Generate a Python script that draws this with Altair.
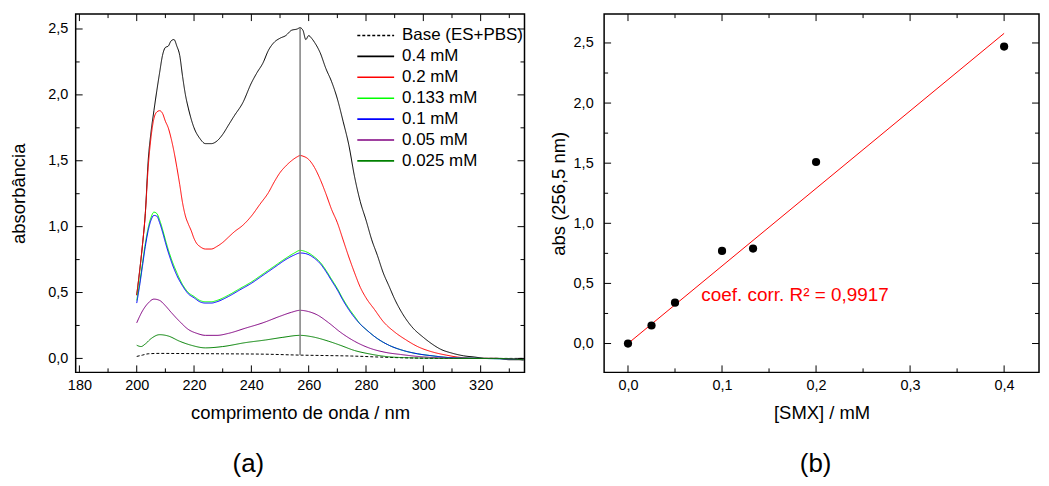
import altair as alt
import pandas as pd

FONT = "Liberation Sans"

# ---------------- panel (a): spectra ----------------
series_names = ["Base (ES+PBS)", "0.4 mM", "0.2 mM", "0.133 mM", "0.1 mM", "0.05 mM", "0.025 mM"]
series_colors = ["#000000", "#000000", "#ff0000", "#00ff00", "#0000ff", "#800080", "#008000"]
series_dash = [[3, 2], [1, 0], [1, 0], [1, 0], [1, 0], [1, 0], [1, 0]]

wl_base = [200, 202, 204, 208, 215, 230, 245, 257, 265, 275, 285, 296, 310, 335]
abs_base = [0.015, 0.025, 0.035, 0.038, 0.037, 0.035, 0.032, 0.025, 0.022, 0.018, 0.01, 0.003, 0.0, 0.0]

wl_04 = [200, 201, 202, 203, 204, 205, 206, 207, 208, 209, 210, 211, 212, 213, 214, 215, 216, 217, 218,
         220, 222, 224, 226, 228, 230, 232, 234, 237, 240, 242, 244, 246, 248, 250, 252, 254, 256, 257,
         258, 259, 260, 261, 262, 264, 266, 268, 270, 272, 274, 276, 278, 280, 282, 284, 286, 288, 290,
         293, 296, 300, 303, 306, 310, 314, 318, 322, 326, 330, 335]
abs_04 = [0.48, 0.66, 0.86, 1.10, 1.50, 1.72, 1.88, 2.03, 2.17, 2.30, 2.36, 2.37, 2.41, 2.42, 2.37, 2.30,
          2.14, 2.00, 1.90, 1.75, 1.67, 1.63, 1.63, 1.65, 1.70, 1.77, 1.84, 1.94, 2.09, 2.17, 2.24, 2.34,
          2.40, 2.43, 2.45, 2.49, 2.50, 2.51, 2.49, 2.42, 2.45, 2.43, 2.40, 2.32, 2.20, 2.10, 1.97, 1.80,
          1.62, 1.38, 1.19, 1.05, 0.90, 0.78, 0.65, 0.55, 0.45, 0.33, 0.24, 0.16, 0.11, 0.07, 0.04, 0.02,
          0.01, 0.0, 0.0, -0.01, -0.01]

wl_02 = [200, 201, 202, 203, 204, 205, 206, 207, 208, 209, 210, 211, 212, 213, 214, 215, 216, 217, 218,
         219, 220, 221, 222, 224, 226, 228, 230, 232, 234, 237, 240, 243, 246, 248, 250, 252, 254, 256,
         257, 258, 260, 262, 264, 266, 268, 270, 272, 274, 276, 278, 280, 283, 286, 290, 294, 298, 303,
         308, 312, 318, 325, 330, 335]
abs_02 = [0.48, 0.66, 0.86, 1.10, 1.45, 1.68, 1.82, 1.87, 1.88, 1.86, 1.80, 1.75, 1.67, 1.57, 1.45, 1.32,
          1.18, 1.08, 1.02, 0.97, 0.91, 0.87, 0.85, 0.83, 0.83, 0.85, 0.88, 0.92, 0.96, 1.01, 1.08, 1.17,
          1.26, 1.34, 1.41, 1.46, 1.50, 1.53, 1.54, 1.535, 1.51, 1.45, 1.36, 1.25, 1.13, 1.03, 0.90, 0.77,
          0.65, 0.54, 0.46, 0.37, 0.28, 0.20, 0.14, 0.09, 0.05, 0.025, 0.01, 0.0, 0.0, -0.005, -0.01]

wl_mid = [200, 201, 202, 203, 204, 205, 206, 207, 208, 209, 210, 212, 214, 216, 218, 220, 222, 224, 226,
          228, 232, 236, 240, 244, 248, 252, 255, 257, 259, 262, 264, 266, 268, 270, 272, 274, 276, 278,
          280, 284, 288, 293, 298, 303, 310, 320, 330, 335]
abs_0133 = [0.44, 0.57, 0.72, 0.87, 0.99, 1.07, 1.11, 1.10, 1.05, 0.98, 0.90, 0.76, 0.65, 0.56, 0.50, 0.47,
            0.44, 0.43, 0.43, 0.44, 0.48, 0.53, 0.58, 0.64, 0.70, 0.76, 0.80, 0.82, 0.81, 0.77, 0.73, 0.67,
            0.60, 0.53, 0.45, 0.38, 0.32, 0.26, 0.22, 0.15, 0.10, 0.06, 0.035, 0.02, 0.005, 0.0, -0.005, -0.01]
abs_01 = [0.42, 0.55, 0.70, 0.85, 0.97, 1.05, 1.085, 1.08, 1.03, 0.96, 0.88, 0.74, 0.63, 0.55, 0.49, 0.46,
          0.43, 0.42, 0.42, 0.43, 0.47, 0.52, 0.57, 0.63, 0.69, 0.75, 0.785, 0.80, 0.795, 0.76, 0.72, 0.66,
          0.59, 0.52, 0.44, 0.37, 0.31, 0.26, 0.22, 0.15, 0.10, 0.06, 0.035, 0.02, 0.005, 0.0, -0.005, -0.01]

wl_005 = [200, 202, 204, 206, 208, 210, 212, 215, 218, 221, 224, 228, 232, 238, 244, 250, 254, 257, 260,
          263, 267, 271, 276, 281, 287, 292, 298, 305, 315, 325, 335]
abs_005 = [0.27, 0.36, 0.42, 0.45, 0.44, 0.40, 0.35, 0.28, 0.22, 0.19, 0.175, 0.175, 0.19, 0.23, 0.27,
           0.32, 0.35, 0.365, 0.355, 0.33, 0.27, 0.20, 0.13, 0.08, 0.045, 0.03, 0.015, 0.005, 0.0, 0.0, -0.01]

wl_0025 = [200, 201.5, 203, 205, 208, 211, 215, 219, 224, 230, 238, 245, 251, 257, 261, 267, 271, 276,
           281, 288, 295, 310, 325, 335]
abs_0025 = [0.10, 0.09, 0.11, 0.15, 0.18, 0.17, 0.13, 0.10, 0.08, 0.09, 0.12, 0.14, 0.16, 0.175, 0.165,
            0.13, 0.10, 0.06, 0.035, 0.012, 0.005, 0.0, 0.0, -0.01]

marker_wl = [257.0]
marker_lo = [0.025]
marker_hi = [2.51]

# ---------------- panel (b): calibration ----------------
conc = [0.0, 0.025, 0.05, 0.1, 0.133, 0.2, 0.4]
abs256 = [0.0, 0.15, 0.34, 0.77, 0.79, 1.51, 2.47]
fit_x = [0.0, 0.4]
fit_y = [0.0, 2.58]
note_text = ["coef. corr. R² = 0,9917"]

# tick values
a_x_major = [180, 200, 220, 240, 260, 280, 300, 320]
a_x_minor = [190, 210, 230, 250, 270, 290, 310, 330]
a_y_major = [0.0, 0.5, 1.0, 1.5, 2.0, 2.5]
a_y_minor = [0.25, 0.75, 1.25, 1.75, 2.25]
b_x_major = [0.0, 0.1, 0.2, 0.3, 0.4]
b_x_minor = [0.05, 0.15, 0.25, 0.35]
b_y_major = [0.0, 0.5, 1.0, 1.5, 2.0, 2.5]
b_y_minor = [0.25, 0.75, 1.25, 1.75, 2.25]

W1, W2, H = 451, 437, 360
COMMA = "replace(format(datum.value, '.1f'), '.', ',')"

rows = []
for name, wls, vals in [
    (series_names[0], wl_base, abs_base),
    (series_names[1], wl_04, abs_04),
    (series_names[2], wl_02, abs_02),
    (series_names[3], wl_mid, abs_0133),
    (series_names[4], wl_mid, abs_01),
    (series_names[5], wl_005, abs_005),
    (series_names[6], wl_0025, abs_0025),
]:
    for w, v in zip(wls, vals):
        rows.append({"wl": w, "abs": v, "series": name})
spec_df = pd.DataFrame(rows)

# shared axes / scales
ax_a_x = alt.Axis(values=a_x_major, format="d", labelPadding=6, titlePadding=12, title="comprimento de onda / nm")
ax_a_y = alt.Axis(values=a_y_major, labelExpr=COMMA, labelPadding=8, titlePadding=19, title="absorbância")
sc_a_x = alt.Scale(domain=[178.7, 335.3], nice=False, zero=False)
sc_a_y = alt.Scale(domain=[-0.106, 2.613], nice=False, zero=False)
ax_b_x = alt.Axis(values=b_x_major, labelExpr=COMMA, labelPadding=6, titlePadding=12, title="[SMX] / mM")
ax_b_y = alt.Axis(values=b_y_major, labelExpr=COMMA, labelPadding=11, titlePadding=5, title="abs (256,5 nm)")
sc_b_x = alt.Scale(domain=[-0.0254, 0.4371], nice=False, zero=False)
sc_b_y = alt.Scale(domain=[-0.24, 2.74], nice=False, zero=False)


def frame_ticks(xmaj, xmin, ymaj, ymin, W, H, axx, axy, scx, scy):
    layers = []
    for vals, L in ((xmaj, 7), (xmin, 4)):
        base = alt.Chart(pd.DataFrame({"v": vals})).mark_rule(color="black", strokeWidth=1)
        layers.append(base.encode(x=alt.X("v:Q", axis=axx, scale=scx), y=alt.value(H), y2=alt.value(H - L)))
        layers.append(base.encode(x=alt.X("v:Q", axis=axx, scale=scx), y=alt.value(0), y2=alt.value(L)))
    for vals, L in ((ymaj, 7), (ymin, 4)):
        base = alt.Chart(pd.DataFrame({"v": vals})).mark_rule(color="black", strokeWidth=1)
        layers.append(base.encode(y=alt.Y("v:Q", axis=axy, scale=scy), x=alt.value(0), x2=alt.value(L)))
        layers.append(base.encode(y=alt.Y("v:Q", axis=axy, scale=scy), x=alt.value(W), x2=alt.value(W - L)))
    return layers


legend_a = alt.Legend(
    title=None, orient="none", legendX=291, legendY=11, symbolType="M-2,0H2", symbolSize=342,
    symbolStrokeWidth=1.6, labelFont=FONT, labelFontSize=17, labelOffset=16, rowPadding=2,
    padding=0, labelColor="black",
)

lines_a = alt.Chart(spec_df).mark_line(strokeWidth=1, interpolate="monotone").encode(
    x=alt.X("wl:Q", scale=sc_a_x, axis=ax_a_x),
    y=alt.Y("abs:Q", scale=sc_a_y, axis=ax_a_y),
    color=alt.Color("series:N", scale=alt.Scale(domain=series_names, range=series_colors), legend=legend_a),
    strokeDash=alt.StrokeDash("series:N", scale=alt.Scale(domain=series_names, range=series_dash),
                              legend=legend_a),
)

marker = alt.Chart(pd.DataFrame({"wl": marker_wl, "abs": marker_lo, "abs2": marker_hi})).mark_rule(
    color="#808080", strokeWidth=1.5).encode(
    x=alt.X("wl:Q", scale=sc_a_x, axis=ax_a_x), y=alt.Y("abs:Q", scale=sc_a_y, axis=ax_a_y), y2="abs2:Q")

panel_a = alt.layer(lines_a, marker,
                    *frame_ticks(a_x_major, a_x_minor, a_y_major, a_y_minor, W1, H, ax_a_x, ax_a_y, sc_a_x, sc_a_y)
                    ).properties(
    width=W1, height=H,
    title=alt.TitleParams("(a)", orient="bottom", fontSize=26, font=FONT, fontWeight="normal",
                          offset=29, anchor="middle", dx=-52, color="black"),
)

pts_df = pd.DataFrame({"c": conc, "a": abs256})
fit_df = pd.DataFrame({"c": fit_x, "a": fit_y})

fit_line = alt.Chart(fit_df).mark_line(color="#ff0000", strokeWidth=1).encode(
    x=alt.X("c:Q", scale=sc_b_x, axis=ax_b_x),
    y=alt.Y("a:Q", scale=sc_b_y, axis=ax_b_y),
)
points = alt.Chart(pts_df).mark_circle(color="black", size=68, opacity=1).encode(
    x=alt.X("c:Q", scale=sc_b_x, axis=ax_b_x), y=alt.Y("a:Q", scale=sc_b_y, axis=ax_b_y))
note = alt.Chart(pd.DataFrame({"c": [0.078], "a": [0.35], "t": note_text})).mark_text(
    align="left", baseline="alphabetic", color="#ff0000", fontSize=19, font=FONT).encode(
    x=alt.X("c:Q", scale=sc_b_x, axis=ax_b_x), y=alt.Y("a:Q", scale=sc_b_y, axis=ax_b_y), text="t:N")

panel_b = alt.layer(fit_line, points, note,
                    *frame_ticks(b_x_major, b_x_minor, b_y_major, b_y_minor, W2, H, ax_b_x, ax_b_y, sc_b_x, sc_b_y)
                    ).properties(
    width=W2, height=H,
    title=alt.TitleParams("(b)", orient="bottom", fontSize=26, font=FONT, fontWeight="normal",
                          offset=29, anchor="middle", dx=-6, color="black"),
)

chart = alt.hconcat(panel_a, panel_b, spacing=22).properties(
    padding={"left": 1, "top": 3, "right": 0, "bottom": 0}
).configure_view(stroke="black", strokeWidth=1.5).configure_axis(
    labelFont=FONT, titleFont=FONT, labelFontSize=14.5, titleFontSize=18.5, titleFontWeight="normal",
    labelColor="black", titleColor="black", ticks=False, tickSize=0, domain=False, grid=False,
)

chart.save("out.html", embed_options={"renderer": "svg", "actions": False})
